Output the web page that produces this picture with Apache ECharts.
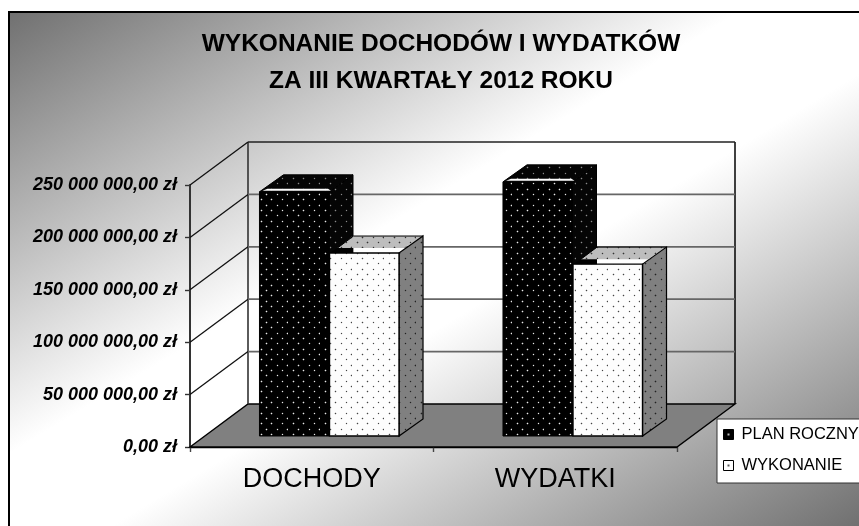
<!DOCTYPE html>
<html><head><meta charset="utf-8">
<style>html,body{margin:0;padding:0;background:#fff}#c{width:859px;height:526px}</style>
<script src="https://cdn.jsdelivr.net/npm/echarts@6/dist/echarts.min.js"></script>
</head><body><div id="c"></div>
<script>
const categories = ['DOCHODY', 'WYDATKI'];
const planRoczny = [233000000, 242500000];
const wykonanie = [174600000, 164000000];
const yTicks = [0, 50000000, 100000000, 150000000, 200000000, 250000000];
const seriesNames = ['PLAN ROCZNY', 'WYKONANIE'];
const titleLines = ['WYKONANIE DOCHODÓW I WYDATKÓW', 'ZA III KWARTAŁY 2012 ROKU'];

const DEPTH_X = 58, DEPTH_Y = 43, BAR_DX = 24, BAR_DY = 17, BAR_SHIFT_X = 17.25, BAR_SHIFT_Y = 11, BAR_FRAC = 0.2855;

function dotted(bg, dot, halo) {
  const c = document.createElement('canvas'); c.width = 32; c.height = 32;
  const g = c.getContext('2d');
  g.fillStyle = bg; g.fillRect(0, 0, 32, 32);
  for (let row = 0; row < 6; row++) {
    for (let k = -1; k < 4; k++) {
      const x = ((Math.round(10 + k * 32 / 3 + (row % 2 ? 32 / 6 : 0)) % 32) + 32) % 32;
      const y = Math.round(2 + row * 32 / 6) % 32;
      g.fillStyle = halo;
      g.fillRect(x - 1, y, 3, 1);
      g.fillRect(x, y - 1, 1, 3);
      g.fillStyle = dot;
      g.fillRect(x, y, 1, 1);
    }
  }
  return { image: c, repeat: 'repeat' };
}
function legendIcon(bg, dot) {
  const c = document.createElement('canvas'); c.width = 10; c.height = 10;
  const g = c.getContext('2d');
  g.fillStyle = bg; g.fillRect(0, 0, 10, 10);
  g.fillStyle = dot; g.fillRect(4, 4, 2, 2);
  return { image: c, repeat: 'repeat' };
}
const FILL = {
  blackFront: dotted('#000', '#e8e8e8', 'rgba(255,255,255,0.12)'),
  blackSide: dotted('#050505', '#8a8a8a', 'rgba(255,255,255,0.06)'),
  whiteFront: dotted('#fdfdfd', '#444', 'rgba(0,0,0,0.07)'),
  whiteTop: dotted('#bdbdbd', '#333', 'rgba(0,0,0,0.1)'),
  whiteSide: dotted('#808080', '#222', 'rgba(0,0,0,0.1)')
};

function poly(points, fill, stroke, lw) {
  return { type: 'polygon', shape: { points }, style: { fill, stroke: stroke || null, lineWidth: lw || 1 } };
}
function line(x1, y1, x2, y2, stroke, lw) {
  return { type: 'line', shape: { x1, y1, x2, y2 }, style: { stroke, lineWidth: lw || 1, fill: null } };
}

function renderWalls(params, api) {
  const cs = params.coordSys;
  const p = api.coord([0, api.value(0)]);
  const y = p[1], xl = cs.x, xr = cs.x + cs.width;
  const kids = [];
  const top = cs.y - DEPTH_Y;
  if (params.dataIndex === 0) {
    kids.push(poly([[xl, y], [xl + DEPTH_X, y - DEPTH_Y], [xr + DEPTH_X, y - DEPTH_Y], [xr, y]], '#808080', '#000', 1.4));
    kids.push(line(xl + DEPTH_X, y - DEPTH_Y, xl + DEPTH_X, top, '#333', 1.6));
    kids.push(line(xr + DEPTH_X, y - DEPTH_Y, xr + DEPTH_X, top, '#000', 1.5));
  } else {
    const isTop = params.dataIndex === yTicks.length - 1;
    kids.push(line(xl, y, xl + DEPTH_X, y - DEPTH_Y, '#111', 1.3));
    kids.push(line(xl + DEPTH_X, y - DEPTH_Y, xr + DEPTH_X, y - DEPTH_Y, isTop ? '#222' : '#666', isTop ? 1.6 : 1.8));
  }
  return { type: 'group', children: kids };
}

function renderBar(dark) {
  return function (params, api) {
    const top = api.coord([api.value(0), api.value(1)]);
    const base = api.coord([api.value(0), 0]);
    const w = api.size([1, 0])[0] * BAR_FRAC;
    const cx = top[0] + BAR_SHIFT_X;
    const fx = dark ? cx - w : cx + 0.5;
    const tx = fx + w;
    const ty = top[1] - BAR_SHIFT_Y, by = base[1] - BAR_SHIFT_Y;
    const kids = [];
    if (dark) {
      kids.push(poly([[tx, ty], [tx + BAR_DX, ty - BAR_DY], [tx + BAR_DX, by - BAR_DY], [tx, by]], FILL.blackSide, '#000', 1));
      kids.push(poly([[fx, ty], [fx + BAR_DX, ty - BAR_DY], [tx + BAR_DX, ty - BAR_DY], [tx, ty]], FILL.blackSide, '#000', 1));
      kids.push(poly([[fx + 3, ty - 1], [tx + 2, ty - 1], [tx - 1, ty - 3], [fx + 8, ty - 3]], '#fff'));
      kids.push(poly([[fx, ty], [tx, ty], [tx, by], [fx, by]], FILL.blackFront, '#000', 1));
    } else {
      kids.push(poly([[fx, ty], [fx + 8, ty - 5], [fx + BAR_DX, ty - 5], [fx + BAR_DX, ty]], '#000'));
      kids.push(poly([[fx + BAR_DX, ty - 5], [tx + 5, ty - 5], [tx, ty], [fx + BAR_DX, ty]], '#fff'));
      kids.push(poly([[fx + 8, ty - 5], [fx + BAR_DX, ty - BAR_DY], [tx + BAR_DX, ty - BAR_DY], [tx + 5, ty - 5]], FILL.whiteTop));
      kids.push(line(fx + BAR_DX, ty - BAR_DY, tx + BAR_DX, ty - BAR_DY, '#000', 1));
      kids.push(line(fx + 8, ty - 5, fx + BAR_DX, ty - BAR_DY, '#000', 1));
      kids.push(poly([[tx, ty], [tx + BAR_DX, ty - BAR_DY], [tx + BAR_DX, by - BAR_DY], [tx, by]], FILL.whiteSide, '#000', 1.2));
      kids.push(poly([[fx, ty], [tx, ty], [tx, by], [fx, by]], FILL.whiteFront, '#000', 1.4));
    }
    return { type: 'group', children: kids };
  };
}

const chart = echarts.init(document.getElementById('c'), null, { renderer: 'canvas' });
chart.setOption({
  animation: false,
  textStyle: { fontFamily: 'Liberation Sans' },
  title: {
    text: titleLines.join('\n'), left: 436, top: 21, textAlign: 'center',
    textStyle: { fontFamily: 'Liberation Sans', fontSize: 24.5, fontWeight: 'bold', color: '#000', lineHeight: 37 }
  },
  graphic: [{
    type: 'rect', z: -10, silent: true,
    shape: { x: 9, y: 12, width: 870, height: 530 },
    style: {
      fill: new echarts.graphic.LinearGradient(206, -108, 662, 646,
        [{ offset: 0, color: '#707070' }, { offset: 0.43, color: '#ffffff' }, { offset: 0.56, color: '#ffffff' }, { offset: 1, color: '#707070' }], true),
      stroke: '#000', lineWidth: 2
    }
  }],
  grid: { left: 190, top: 185, width: 487, height: 262, containLabel: false },
  legend: {
    left: 717, top: 419, orient: 'vertical', padding: [6, 20, 8, 6], itemGap: 12,
    itemWidth: 10, itemHeight: 10, icon: 'rect', selectedMode: false,
    backgroundColor: '#fff', borderColor: '#333', borderWidth: 1,
    textStyle: { fontFamily: 'Liberation Sans', fontSize: 16.5, lineHeight: 19, color: '#000', padding: [0, 0, 0, 3] },
    data: [
      { name: seriesNames[0], itemStyle: { color: legendIcon('#000', '#bbb'), borderColor: '#000', borderWidth: 1 } },
      { name: seriesNames[1], itemStyle: { color: legendIcon('#fff', '#555'), borderColor: '#000', borderWidth: 1 } }
    ]
  },
  xAxis: {
    type: 'category', data: categories, position: 'bottom',
    axisLine: { show: true, lineStyle: { color: '#000', width: 1.4 } },
    axisTick: { show: true, length: 5, lineStyle: { color: '#444', width: 1.4 } },
    axisLabel: { fontFamily: 'Liberation Sans', fontSize: 27, color: '#000', margin: 19 },
    splitLine: { show: false }
  },
  yAxis: {
    type: 'value', min: 0, max: 250000000, interval: 50000000,
    axisLine: { show: true, lineStyle: { color: '#333', width: 2 } },
    axisTick: { show: true, length: 5, lineStyle: { color: '#333', width: 1.4 } },
    splitLine: { show: false },
    axisLabel: {
      fontFamily: 'Liberation Sans', fontSize: 18, fontWeight: 'bold', fontStyle: 'italic', color: '#000', margin: 13,
      formatter: v => (v === 0 ? '0' : String(v).replace(/\B(?=(\d{3})+$)/g, ' ')) + ',00 zł'
    }
  },
  series: [
    { type: 'custom', name: 'siatka', silent: true, renderItem: renderWalls, data: yTicks.map(v => [v]), encode: { y: 0 }, z: 1 },
    { type: 'custom', name: seriesNames[0], silent: true, renderItem: renderBar(true), data: planRoczny.map((v, i) => [i, v]), encode: { x: 0, y: 1 }, z: 3 },
    { type: 'custom', name: seriesNames[1], silent: true, renderItem: renderBar(false), data: wykonanie.map((v, i) => [i, v]), encode: { x: 0, y: 1 }, z: 4 }
  ]
});
</script></body></html>
